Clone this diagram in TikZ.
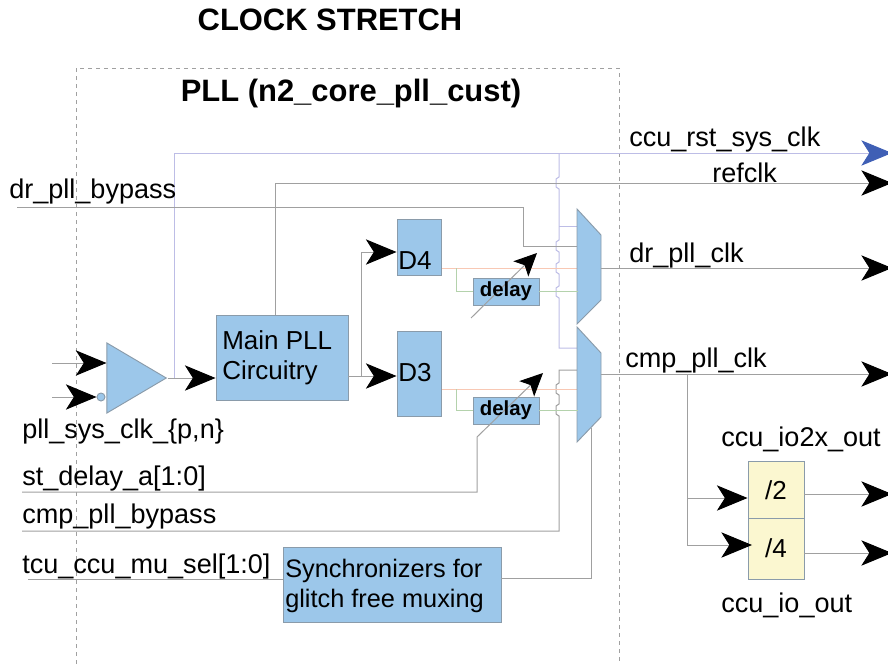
\documentclass[tikz,border=0pt]{standalone}
\usepackage{fontspec}
\setmainfont{Liberation Sans}
\usepackage{xcolor}
\usepackage{tikz}
\usetikzlibrary{arrows.meta,positioning,shapes.geometric}
\definecolor{wiregray}{HTML}{A0A0A0}
\definecolor{lavender}{HTML}{BDBDE6}
\definecolor{salmon}{HTML}{F8C8B4}
\definecolor{sage}{HTML}{B4D2AC}
\definecolor{skyfill}{HTML}{9CC7EA}
\definecolor{skyline}{HTML}{8A9BAA}
\definecolor{cream}{HTML}{FBF7D0}
\definecolor{royal}{HTML}{3F5FB5}
\tikzset{
  block/.style={rectangle, draw=skyline, fill=skyfill, line width=0.7pt, inner sep=0pt},
  divbox/.style={block, fill=cream, minimum width=42pt},
  delaybox/.style={block, minimum width=49.5pt, minimum height=20.25pt},
  delaytxt/.style={inner sep=0pt, font=\fontsize{15.3}{18}\selectfont\bfseries},
  muxbox/.style={draw=skyline, fill=skyfill, line width=0.7pt},
  blocktxt/.style={inner sep=0pt, font=\fontsize{19.5}{22.5}\selectfont},
  multitxt/.style={blocktxt, anchor=west, align=left},
  lbl/.style={anchor=west, inner sep=0pt, font=\fontsize{20.3}{24}\selectfont},
  titletxt/.style={inner sep=0pt, font=\fontsize{23.2}{28}\selectfont\bfseries},
  wire/.style={draw=wiregray, line width=0.75pt},
  lavwire/.style={draw=lavender, line width=0.75pt},
  hotwire/.style={draw=salmon, line width=0.75pt},
  coolwire/.style={draw=sage, line width=0.75pt},
  flow/.style={wire, -{Stealth[length=23pt, width=19pt, inset=6pt, color=black]}},
  rstflow/.style={lavwire, -{Stealth[length=23pt, width=19pt, inset=6pt, color=royal]}},
  smallflow/.style={wire, -{Stealth[length=17pt, width=16pt, inset=4pt, color=black]}}
}

\begin{document}
\begin{tikzpicture}[x=0.75pt, y=-0.75pt]
  \useasboundingbox (0,0) rectangle (888,664);
  % outer frame
  \coordinate (frameA) at (76,664);
  \coordinate (frameB) at (619,664);
  \draw[wiregray, dashed, line width=0.6pt] (frameA) |- (619,68) -- (frameB);
  \node[titletxt] (title) at (330,20) {CLOCK STRETCH};
  \node[titletxt] (plltitle) at (351,93) {PLL (n2\_core\_pll\_cust)};
  % free ends
  \coordinate (inp) at (52,363);
  \coordinate (inn) at (52,397);
  \coordinate (rstout) at (892,153);
  \coordinate (refout) at (892,183);
  \coordinate (drout) at (892,268);
  \coordinate (cmpout) at (892,374);
  \coordinate (twoout) at (892,494);
  \coordinate (fourout) at (892,553);
  \coordinate (drbyp) at (17,207);
  \coordinate (stin) at (22,492);
  \coordinate (cmpbyp) at (22,531);
  \coordinate (tcuin) at (28,579);
  \coordinate (skewa) at (471,318);
  \coordinate (skewtipa) at (537,253);
  \coordinate (skewtipb) at (543,373);
  \coordinate (muxaout) at (601,268);
  \coordinate (muxbout) at (601,374);
  % wires into the muxes
  \draw[lavwire] (174,378) -- (174,153);
  \draw[lavwire] (559,153)
    foreach \y in {183,246,268,292} { -- (559,{\y-6}) -- (556,{\y-4}) -- (556,{\y+4}) -- (559,{\y+6}) }
    -- (559,348) -- (578,348);
  \draw[lavwire] (559,226) -- (578,226);
  \draw[wire] (cmpbyp) -- (559,531)
    foreach \y in {410,389} { -- (559,{\y+6}) -- (556,{\y+4}) -- (556,{\y-4}) -- (559,{\y-6}) }
    -- (559,370) -- (578,370);
  \draw[wire] (drbyp) -| (523,246) -- (578,246);
  \draw[hotwire] (441,268) -- (578,268);
  \draw[hotwire] (441,389) -- (578,389);
  % blocks
  \node[isosceles triangle, isosceles triangle stretches=true, draw=skyline, fill=skyfill, line width=0.7pt, inner sep=0pt,
        minimum width=52.5pt, minimum height=44.5pt, anchor=apex] (buf) at (167.5,378) {};
  \node[circle, draw=skyline, fill=skyfill, line width=0.7pt, inner sep=0pt, minimum size=6pt] (bubble) at (101,397) {};
  \node[block, minimum width=99pt, minimum height=63.75pt] (mainpll) at (282,357.5) {};
  \node[multitxt] (mainplltxt) at (222,358) {Main PLL\\Circuitry};
  \node[block, minimum width=33pt, minimum height=42pt] (dfour) at (419,247) {};
  \node[block, minimum width=33pt, minimum height=63.75pt] (dthree) at (419,373.5) {};
  \node[blocktxt] (dfourtxt) at (415,261) {D4};
  \node[blocktxt] (dthreetxt) at (415,373) {D3};
  \node[delaybox] (delaya) at (506,291.5) {};
  \node[delaybox] (delayb) at (506,410.5) {};
  \draw[muxbox] (577,209) -- (601,235) -- (601,300) -- (577,324) -- cycle;
  \draw[muxbox] (577,327) -- (601,353) -- (601,417) -- (577,442) -- cycle;
  \node[block, minimum width=163.5pt, minimum height=56.25pt] (sync) at (392,584.5) {};
  \node[multitxt, font=\fontsize{19}{22.5}\selectfont] (synctxt) at (285,586) {Synchronizers for\\glitch free muxing};
  \node[divbox, minimum height=42.75pt] (divtwo) at (776,489.5) {};
  \node[divbox, minimum height=45.75pt] (divfour) at (776,548.5) {};
  \node[blocktxt] (divtwotxt) at (776,490) {/2};
  \node[blocktxt] (divfourtxt) at (776,548) {/4};
  % labels
  \node[lbl] (rstlbl) at (629,139) {ccu\_rst\_sys\_clk};
  \node[lbl] (reflbl) at (712,173) {refclk};
  \node[lbl] (drbyplbl) at (9,191) {dr\_pll\_bypass};
  \node[lbl] (drclklbl) at (629,255) {dr\_pll\_clk};
  \node[lbl] (cmpclklbl) at (625,360) {cmp\_pll\_clk};
  \node[lbl] (syslbl) at (22,431) {pll\_sys\_clk\_\{p,n\}};
  \node[lbl] (io2xlbl) at (721,439) {ccu\_io2x\_out};
  \node[lbl] (stlbl) at (22,478) {st\_delay\_a[1:0]};
  \node[lbl] (cmpbyplbl) at (22,516) {cmp\_pll\_bypass};
  \node[lbl] (tculbl) at (22,566) {tcu\_ccu\_mu\_sel[1:0]};
  \node[lbl] (iolbl) at (721,605) {ccu\_io\_out};
  % wires
  \draw[coolwire] (456,268) |- (delaya.west);
  \draw[coolwire] (delaya.east) -- (578,291.5);
  \draw[coolwire] (456,389) |- (delayb.west);
  \draw[coolwire] (delayb.east) -- (578,410.5);
  \draw[smallflow] (skewa) -- (skewtipa);
  \draw[smallflow] (stin) -| (477,437) -- (skewtipb);
  \node[delaytxt] (delayatxt) at (506,291.5) {delay};
  \node[delaytxt] (delaybtxt) at (506,410.5) {delay};
  \draw[wire] (tcuin) -- (sync.west |- tcuin);
  \draw[wire] (sync.east |- 0,578) -| (591,428);
  % main clock path
  \draw[flow] (inp) -- (buf.west |- inp);
  \draw[flow] (inn) -- (bubble.west);
  \draw[flow] (buf.apex) -- (mainpll.west |- buf.apex);
  \draw[rstflow] (174,153) -- (rstout);
  \draw[flow] (mainpll.north -| 275,0) |- (refout);
  \draw[flow] (mainpll.east |- 0,376) -- (dthree.west |- 0,376);
  \draw[flow] (361,376) |- (dfour.west |- 0,252);
  \draw[flow] (muxaout) -- (drout);
  \draw[flow] (muxbout) -- (cmpout);
  \draw[flow] (687,374) |- (divtwo.west |- 0,498);
  \draw[flow] (687,498) |- (752,545);
  \draw[flow] (divtwo.east |- twoout) -- (twoout);
  \draw[flow] (divfour.east |- fourout) -- (fourout);
\end{tikzpicture}
\end{document}
